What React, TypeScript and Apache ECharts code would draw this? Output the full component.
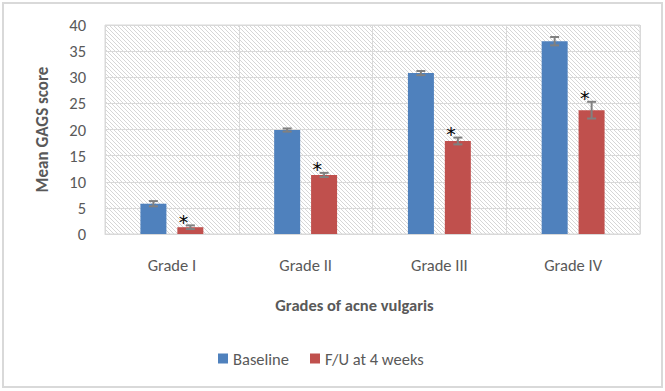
import React, { useEffect, useRef } from "react";
import * as echarts from "echarts";

const categories = ["Grade I", "Grade II", "Grade III", "Grade IV"];
const baseline = [5.8, 19.9, 30.8, 36.9];
const baselineErr = [0.5, 0.3, 0.4, 0.8];
const followUp = [1.3, 11.3, 17.8, 23.7];
const followUpErr = [0.35, 0.4, 0.65, 1.6];
const yTicks = { min: 0, max: 40, interval: 5 };

const FONT = "Carlito, Lato, 'Open Sans', sans-serif";

const hatchSvg =
  "data:image/svg+xml;utf8," +
  encodeURIComponent(
    '<svg xmlns="http://www.w3.org/2000/svg" width="4" height="4"><rect width="4" height="4" fill="#ffffff"/><path d="M-1,-1 L5,5 M-1,3 L1,5 M3,-1 L5,1" stroke="#d6d6d6" stroke-width="1"/></svg>'
  );

function errorSeries(values: number[], errs: number[], offset: number, star: boolean) {
  return {
    type: "custom",
    silent: true,
    z: 5,
    data: values.map((v, i) => [i, v, errs[i]]),
    renderItem: (params: any, api: any) => {
      const idx = api.value(0);
      const v = api.value(1);
      const e = api.value(2);
      const top = api.coord([idx, v + e]);
      const bot = api.coord([idx, v - e]);
      const x = top[0] + offset;
      const cap = 4.5;
      const style = { stroke: "#808080", lineWidth: 2, fill: "none" };
      const children: any[] = [
        { type: "line", shape: { x1: x, y1: top[1], x2: x, y2: bot[1] }, style },
        { type: "line", shape: { x1: x - cap, y1: top[1], x2: x + cap, y2: top[1] }, style },
        { type: "line", shape: { x1: x - cap, y1: bot[1], x2: x + cap, y2: bot[1] }, style },
      ];
      if (star) {
        children.push({
          type: "text",
          style: {
            text: "*",
            x: x - 7,
            y: top[1] + 6,
            fill: "#000000",
            font: "normal 19px 'DejaVu Sans', sans-serif",
            align: "center",
            verticalAlign: "bottom",
          },
        });
      }
      return { type: "group", children };
    },
  };
}

export default function App() {
  const ref = useRef<HTMLDivElement>(null);
  useEffect(() => {
    document.body.style.margin = "0";
    const chart = echarts.init(ref.current!, null, { renderer: "svg" });
    chart.setOption({
      animation: false,
      backgroundColor: "#ffffff",
      grid: {
        left: 105,
        right: 25,
        top: 25,
        bottom: 157,
        show: true,
        borderColor: "#d9d9d9",
        borderWidth: 1,
        backgroundColor: {
          image: hatchSvg,
          repeat: "repeat",
          imageWidth: 4,
          imageHeight: 4,
        },
      },
      legend: {
        left: 213,
        top: 345,
        icon: "rect",
        itemWidth: 10,
        itemHeight: 10,
        itemGap: 21,
        itemStyle: { borderWidth: 0 },
        textStyle: { fontFamily: FONT, fontSize: 16.5, color: "#595959" },
        data: ["Baseline", "F/U at 4 weeks"],
      },
      xAxis: {
        type: "category",
        data: categories,
        axisTick: { show: false },
        axisLine: { lineStyle: { color: "#d9d9d9" } },
        splitLine: { show: true, lineStyle: { color: "#d9d9d9", width: 1 } },
        axisLabel: { fontFamily: FONT, fontSize: 16.5, color: "#595959", margin: 22 },
        name: "Grades of acne vulgaris",
        nameLocation: "middle",
        nameGap: 62,
        nameTextStyle: {
          fontFamily: FONT,
          fontSize: 16.5,
          fontWeight: "bold",
          color: "#595959",
          padding: [0, 36, 0, 0],
        },
      },
      yAxis: {
        type: "value",
        min: yTicks.min,
        max: yTicks.max,
        interval: yTicks.interval,
        axisLine: { show: false },
        axisTick: { show: false },
        splitLine: { lineStyle: { color: "#d9d9d9", width: 1 } },
        axisLabel: { fontFamily: FONT, fontSize: 16.5, color: "#595959", margin: 19 },
        name: "Mean GAGS score",
        nameLocation: "middle",
        nameGap: 54,
        nameTextStyle: {
          fontFamily: FONT,
          fontSize: 17,
          fontWeight: "bold",
          color: "#595959",
        },
      },
      series: [
        {
          name: "Baseline",
          type: "bar",
          data: baseline,
          barWidth: 26,
          barGap: "42%",
          itemStyle: { color: "#4f81bd" },
        },
        {
          name: "F/U at 4 weeks",
          type: "bar",
          data: followUp,
          barWidth: 26,
          itemStyle: { color: "#c0504d" },
        },
        errorSeries(baseline, baselineErr, -18.5, false),
        errorSeries(followUp, followUpErr, 18.5, true),
      ],
      graphic: [
        {
          type: "rect",
          shape: { x: 3, y: 3, width: 659, height: 384 },
          style: { fill: "none", stroke: "#d9d9d9", lineWidth: 2 },
          silent: true,
        },
      ],
    });
    return () => chart.dispose();
  }, []);
  return <div ref={ref} style={{ width: 665, height: 391 }} />;
}
